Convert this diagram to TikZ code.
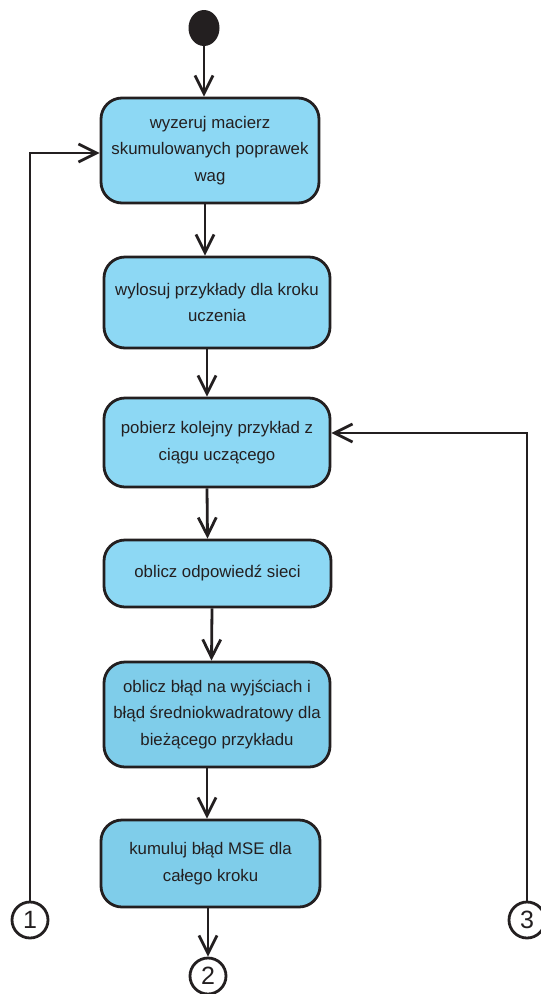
\documentclass[tikz,border=0pt]{standalone}
\usepackage{fontspec}
\setmainfont{Liberation Sans}
\usetikzlibrary{arrows.meta,shapes.geometric}

\definecolor{boxblue}{HTML}{8DD8F4}
\definecolor{boxbluedark}{HTML}{7FCDEA}
\definecolor{ink}{HTML}{231F20}

\begin{document}
\begin{tikzpicture}[x=1pt,y=-1pt,
  action/.style={draw=ink,line width=2.8pt,fill=boxblue,rounded corners=21pt,
    align=center,inner sep=0pt,font=\fontsize{16.8}{26.5}\selectfont,text=ink},
  connector/.style={draw=ink,line width=2.8pt,circle,minimum size=36pt,
    inner sep=0pt,font=\fontsize{25}{25}\selectfont,text=ink},
  flow/.style={draw=ink,line width=2.8pt,-{Straight Barb[length=18pt,width=18pt]}}]
\useasboundingbox (0,0) rectangle (541,994);

\node[ellipse,fill=ink,minimum width=31pt,minimum height=36pt,inner sep=0pt] (start) at (204,28) {};

\node[action,minimum width=218pt,minimum height=105pt] (b1) at (210,150.5)
  {wyzeruj macierz\\skumulowanych poprawek\\wag};
\node[action,minimum width=226pt,minimum height=91pt] (b2) at (217,302.5)
  {wylosuj przykłady dla kroku\\uczenia};
\node[action,minimum width=226pt,minimum height=89pt] (b3) at (217,442.5)
  {pobierz kolejny przykład z\\ciągu uczącego};
\node[action,minimum width=227pt,minimum height=67pt] (b4) at (217.5,573.5)
  {oblicz odpowiedź sieci};
\node[action,fill=boxbluedark,minimum width=226pt,minimum height=105pt] (b5) at (217,714.5)
  {oblicz błąd na wyjściach i\\błąd średniokwadratowy dla\\bieżącego przykładu};
\node[action,fill=boxbluedark,minimum width=219pt,minimum height=87pt] (b6) at (210.5,863.5)
  {kumuluj błąd MSE dla\\całego kroku};

\node[connector] (c1) at (30,920) {1};
\node[connector] (c2) at (208,976) {2};
\node[connector] (c3) at (527,920) {3};

% main flow
\draw[flow] (start) -- (start |- b1.north);
\draw[flow] ([xshift=-5pt]b1.south) -- ([xshift=-5pt]b1.south |- b2.north);
\draw[flow] ([xshift=-10pt]b2.south) -- ([xshift=-10pt]b3.north);
\draw[flow] ([xshift=-10pt]b3.south) -- ([xshift=-10pt]b4.north);
\draw[flow] ([xshift=-5.5pt]b4.south) -- ([xshift=-5.5pt]b5.north);
\draw[flow] ([xshift=-10pt]b5.south) -- ([xshift=-10pt]b5.south |- b6.north);
\draw[flow] (b6.south -| c2) -- (c2.north);

% loops
\draw[flow] (c1.north) |- ([yshift=-2.5pt]b1.west);
\draw[flow] (c3.north) |- ([yshift=9.5pt]b3.east);
\end{tikzpicture}
\end{document}
